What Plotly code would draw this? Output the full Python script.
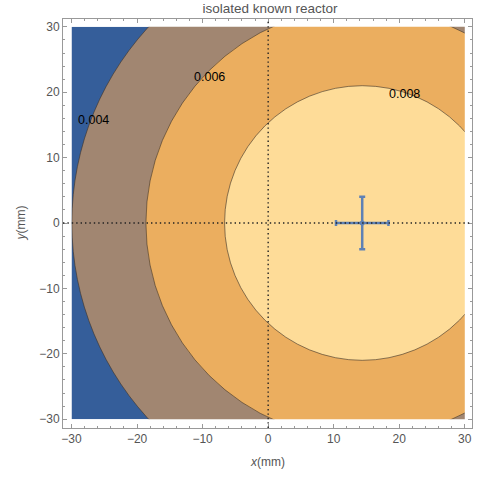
import plotly.graph_objects as go

# ---- data ----
levels = [0.004, 0.006, 0.008]          # contour levels
radii = [44.3, 33.0, 21.0]              # radius (mm) of each level around the source
source_x = [14.35]                      # fitted reactor position (mm)
source_y = [0.0]
source_err_x = [4.0]
source_err_y = [4.0]
label_x = [-26.6, -9.0, 20.8]           # where the level labels sit
label_y = [15.7, 22.4, 19.8]
region_colors = ["#355E9A", "#A18671", "#EBAE5F", "#FEDC98"]  # outside -> inside
data_lo, data_hi = -30, 30

fig = go.Figure()

shapes = []
shapes.append(dict(type="rect", xref="x", yref="y", x0=data_lo, x1=data_hi,
                   y0=data_lo, y1=data_hi, fillcolor=region_colors[0],
                   line=dict(width=0), layer="below"))
for r, col in zip(radii, region_colors[1:]):
    cx, cy = source_x[0], source_y[0]
    shapes.append(dict(type="circle", xref="x", yref="y",
                       x0=cx - r, x1=cx + r, y0=cy - r, y1=cy + r,
                       fillcolor=col, line=dict(color="rgba(60,50,40,0.75)", width=0.8),
                       layer="below"))
pad = 5
for (x0, x1, y0, y1) in [(data_lo - pad, data_lo, data_lo - pad, data_hi + pad),
                         (data_hi, data_hi + pad, data_lo - pad, data_hi + pad),
                         (data_lo - pad, data_hi + pad, data_hi, data_hi + pad),
                         (data_lo - pad, data_hi + pad, data_lo - pad, data_lo)]:
    shapes.append(dict(type="rect", xref="x", yref="y", x0=x0, x1=x1, y0=y0, y1=y1,
                       fillcolor="white", line=dict(width=0), layer="below"))
shapes.append(dict(type="line", xref="x", yref="paper", x0=0, x1=0, y0=0, y1=1,
                   line=dict(color="#222", width=1.4, dash="1.4px,3px"), layer="above"))
shapes.append(dict(type="line", xref="paper", yref="y", x0=0, x1=1, y0=0, y1=0,
                   line=dict(color="#222", width=1.4, dash="1.4px,3px"), layer="above"))

fig.add_trace(go.Scatter(
    x=source_x, y=source_y, mode="markers",
    marker=dict(color="#5E81B5", size=5),
    error_x=dict(type="data", array=source_err_x, color="#5E81B5", thickness=2.5, width=3),
    error_y=dict(type="data", array=source_err_y, color="#5E81B5", thickness=2.5, width=3),
    showlegend=False, hoverinfo="skip"))

annotations = []
for lv, lx, ly in zip(levels, label_x, label_y):
    annotations.append(dict(x=lx, y=ly, xref="x", yref="y", text=f"{lv:.3f}",
                            showarrow=False, font=dict(size=12.5, color="black",
                                                       family="Liberation Sans")))
annotations.append(dict(x=0.5, y=-0.105, xref="paper", yref="paper",
                        text="<i>x</i>(mm)", showarrow=False,
                        font=dict(size=12, color="#555", family="Liberation Sans")))
annotations.append(dict(x=-0.127, y=0.5, xref="paper", yref="paper",
                        text="<i>y</i>(mm)", showarrow=False, textangle=-90,
                        font=dict(size=12, color="#555", family="Liberation Sans")))

axis_common = dict(
    showgrid=False, zeroline=False, showline=True, linecolor="#999", linewidth=1,
    mirror="allticks", ticks="inside", ticklen=4, tickcolor="#999",
    tickfont=dict(size=12, color="#555", family="Liberation Sans"),
    tick0=0, dtick=10,
    minor=dict(ticks="inside", ticklen=2, dtick=2, tickcolor="#999", showgrid=False),
)

fig.update_layout(
    width=478, height=477,
    margin=dict(l=63, r=6, t=19, b=49),
    plot_bgcolor="white", paper_bgcolor="white",
    shapes=shapes, annotations=annotations,
    title=dict(text="isolated known reactor", x=0.565, xanchor="center", y=0.993, yanchor="top",
               font=dict(size=13.5, color="#555", family="Liberation Sans")),
    xaxis=dict(range=[-31.3, 31.1], **axis_common),
    yaxis=dict(range=[-31.35, 31.2], **axis_common),
    showlegend=False,
)

fig.write_html("out.html", config={"displayModeBar": False},
               post_script="document.body.style.margin='0';document.body.style.overflow='hidden';")
